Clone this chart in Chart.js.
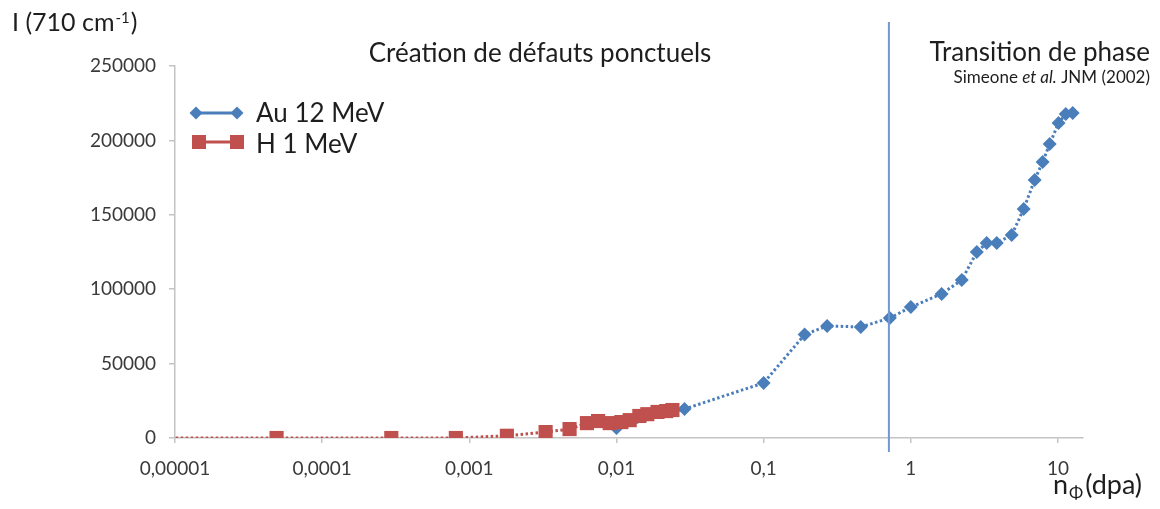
<!DOCTYPE html>
<html><head><meta charset="utf-8">
<script src="https://cdn.jsdelivr.net/npm/chart.js@4"></script>
<style>html,body{margin:0;padding:0;background:#fff}#wrap{width:1160px;height:509px;position:relative}</style>
</head><body><div id="wrap"><canvas id="c" width="1160" height="509"></canvas></div>
<script>
// ---- data ----
const auX = [0.01, 0.029, 0.1, 0.19, 0.27, 0.457, 0.72, 1.0, 1.62, 2.22, 2.81, 3.28, 3.84, 4.85, 5.85, 6.95, 7.87, 8.79, 10.1, 11.3, 12.6];
const auY = [6700, 19500, 37000, 69500, 75300, 74600, 80600, 88000, 96800, 106200, 125000, 131000, 131000, 136400, 153900, 173400, 185500, 197600, 211700, 217700, 218400];
const hX = [0.000005, 0.000049, 0.000295, 0.00081, 0.0018, 0.0033, 0.0048, 0.0063, 0.0075, 0.009, 0.0108, 0.0123, 0.0143, 0.0162, 0.019, 0.0218, 0.024];
const hY = [0, 0, 0, 0, 1500, 4000, 6000, 10000, 11400, 10000, 10700, 12000, 14800, 16000, 17500, 18100, 18800];
const xTickValues = [0.00001, 0.0001, 0.001, 0.01, 0.1, 1, 10];
const xTickLabels = ['0,00001', '0,0001', '0,001', '0,01', '0,1', '1', '10'];
const yTickStep = 50000;
const phaseLineX = 0.71;
const seriesNames = ['Au 12 MeV', 'H 1 MeV'];

const BLUE = '#4A7EBB', RED = '#C0504D', VLINE = '#6E99D2';
const FONT = 'Lato, "Open Sans", sans-serif';
const TXT = '#1e1e1e', TICK = '#3a3a3a', AXIS = '#c4c4c4';

function drawDiamond(ctx, x, y, r, c) {
  ctx.fillStyle = c; ctx.beginPath();
  ctx.moveTo(x - r, y); ctx.lineTo(x, y - r); ctx.lineTo(x + r, y); ctx.lineTo(x, y + r); ctx.closePath(); ctx.fill();
}

const annot = {
  id: 'annot',
  afterDatasetsDraw(chart) {
    const ctx = chart.ctx, xs = chart.scales.x, ca = chart.chartArea;
    ctx.save();
    // vertical phase line
    const vx = xs.getPixelForValue(phaseLineX);
    ctx.strokeStyle = VLINE; ctx.lineWidth = 2;
    ctx.beginPath(); ctx.moveTo(vx, 22); ctx.lineTo(vx, ca.bottom + 14); ctx.stroke();

    ctx.fillStyle = TXT; ctx.textBaseline = 'alphabetic';
    // y title
    ctx.textAlign = 'left';
    ctx.font = '25px ' + FONT;
    let s1 = 'I (710 cm';
    ctx.fillText(s1, 12, 31);
    let w1 = ctx.measureText(s1).width;
    ctx.font = '15px ' + FONT;
    ctx.fillText('-1', 12 + w1 + 1, 23);
    let w2 = ctx.measureText('-1').width;
    ctx.font = '25px ' + FONT;
    ctx.fillText(')', 12 + w1 + w2 + 2, 31);

    // section titles
    ctx.font = '26px ' + FONT;
    ctx.textAlign = 'center';
    ctx.fillText('Création de défauts ponctuels', 540, 62);
    ctx.textAlign = 'right';
    ctx.fillText('Transition de phase', 1150, 61);
    // citation with italic
    ctx.font = '17px ' + FONT;
    const p3 = ' JNM (2002)';
    const w3 = ctx.measureText(p3).width;
    ctx.fillText(p3, 1150, 83);
    ctx.font = 'italic 17px ' + FONT;
    const p2 = 'et al.';
    const w2b = ctx.measureText(p2).width;
    ctx.fillText(p2, 1150 - w3, 83);
    ctx.font = '17px ' + FONT;
    ctx.fillText('Simeone ', 1150 - w3 - w2b, 83);

    // x title
    ctx.textAlign = 'left';
    ctx.font = '27px ' + FONT;
    ctx.fillText('n', 1053, 494);
    let wn = ctx.measureText('n').width;
    ctx.font = '17px ' + FONT;
    ctx.fillText('Φ', 1053 + wn + 1, 499);
    let wp = ctx.measureText('Φ').width;
    ctx.font = '27px ' + FONT;
    ctx.fillText('(dpa)', 1053 + wn + wp + 3, 494);

    // legend
    ctx.setLineDash([]);
    ctx.strokeStyle = BLUE; ctx.lineWidth = 3;
    ctx.beginPath(); ctx.moveTo(194, 113); ctx.lineTo(238, 113); ctx.stroke();
    drawDiamond(ctx, 196, 113, 6.5, BLUE); drawDiamond(ctx, 237, 113, 6.5, BLUE);
    ctx.strokeStyle = RED;
    ctx.beginPath(); ctx.moveTo(198, 142); ctx.lineTo(237, 142); ctx.stroke();
    ctx.fillStyle = RED;
    ctx.fillRect(192, 135, 14, 14); ctx.fillRect(230, 135, 14, 14);
    ctx.fillStyle = TXT; ctx.font = '26px ' + FONT; ctx.textAlign = 'left';
    ctx.fillText(seriesNames[0], 256, 122);
    ctx.fillText(seriesNames[1], 256, 153);
    ctx.restore();
  }
};

const ctx = document.getElementById('c').getContext('2d');
new Chart(ctx, {
  type: 'scatter',
  data: {
    datasets: [
      { label: seriesNames[1], data: hX.map((x, i) => ({ x, y: hY[i] })), showLine: true,
        borderColor: RED, backgroundColor: RED, pointStyle: 'rect', pointRadius: 10, pointHoverRadius: 10,
        pointBorderWidth: 0, borderWidth: 3, borderDash: [2.5, 2.5], order: 0 },
      { label: seriesNames[0], data: auX.map((x, i) => ({ x, y: auY[i] })), showLine: true,
        borderColor: BLUE, backgroundColor: BLUE, pointStyle: 'rectRot', pointRadius: 7, pointHoverRadius: 7,
        pointBorderWidth: 0, borderWidth: 3, borderDash: [2.5, 2.5], order: 1 }
    ]
  },
  options: {
    responsive: false, animation: false,
    layout: { padding: { left: 0, right: 77, top: 66, bottom: 0 } },
    plugins: { legend: { display: false }, tooltip: { enabled: false } },
    scales: {
      x: {
        type: 'logarithmic', min: 0.00001, max: 14.8,
        afterBuildTicks: s => { s.ticks = xTickValues.map(v => ({ value: v })); },
        afterFit: s => { s.height = 71; },
        ticks: { callback: (v, i) => xTickLabels[i], font: { family: FONT, size: 19 }, color: TICK,
                 padding: 14, maxRotation: 0, autoSkip: false },
        grid: { drawOnChartArea: false, tickLength: 5, color: AXIS, lineWidth: 1.5 },
        border: { color: AXIS, width: 1.5 }
      },
      y: {
        min: 0, max: 250000,
        afterFit: s => { s.width = 175; },
        ticks: { stepSize: yTickStep, callback: v => String(v), font: { family: FONT, size: 19 }, color: TICK, padding: 13 },
        grid: { drawOnChartArea: false, tickLength: 6, color: AXIS, lineWidth: 1.5 },
        border: { color: AXIS, width: 1.5 }
      }
    }
  },
  plugins: [annot]
});
</script></body></html>
